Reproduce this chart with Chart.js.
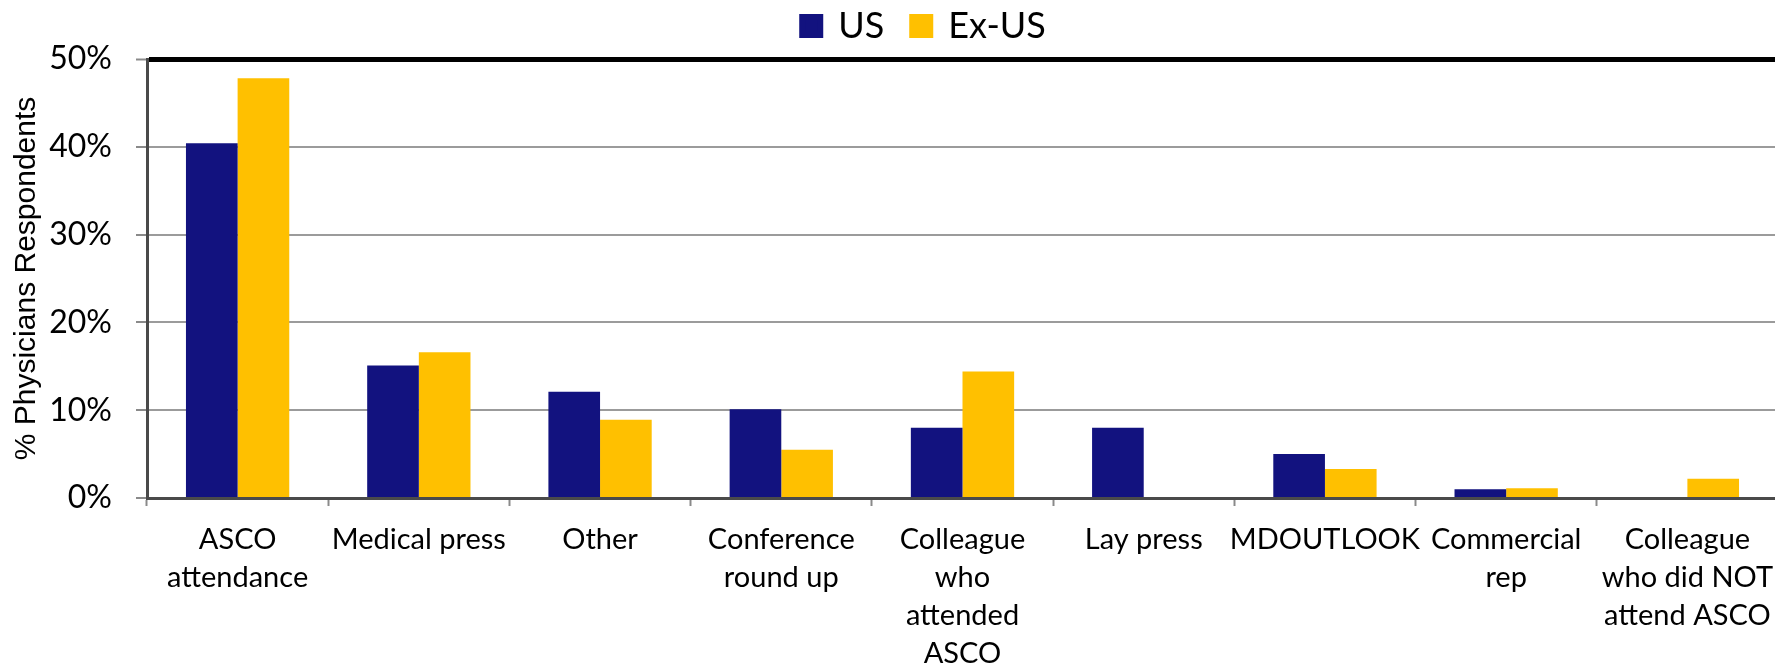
<!DOCTYPE html>
<html>
<head>
<meta charset="utf-8">
<script src="https://cdn.jsdelivr.net/npm/chart.js@4.4.1/dist/chart.umd.min.js"></script>
<style>
  html, body { margin: 0; padding: 0; background: #ffffff; overflow: hidden; }
  #wrap { width: 1792px; height: 667px; }
</style>
</head>
<body>
<div id="wrap"><canvas id="c" width="1792" height="667"></canvas></div>
<script>
// Source of ASCO information, by region (% of physician respondents)
const categories = [
  ["ASCO", "attendance"],
  ["Medical press"],
  ["Other"],
  ["Conference", "round up"],
  ["Colleague", "who", "attended", "ASCO"],
  ["Lay press"],
  ["MDOUTLOOK"],
  ["Commercial", "rep"],
  ["Colleague", "who did NOT", "attend ASCO"]
];
const seriesNames = ["US", "Ex-US"];
const usValues   = [40.4, 15.1, 12.1, 10.1, 8.0, 8.0, 5.0, 1.0, 0];
const exUsValues = [47.8, 16.6, 8.9, 5.5, 14.4, 0, 3.3, 1.1, 2.2];
const yTicks = [0, 10, 20, 30, 40, 50];
const yTitle = "% Physicians Respondents";

const NAVY = "#12127f";
const GOLD = "#ffc000";

// nudges the legend row so it sits where the layout wants it
const legendNudge = {
  id: "legendNudge",
  afterLayout(chart) {
    const lg = chart.legend;
    if (!lg) return;
    const dx = 35, dy = -5;
    lg.left += dx; lg.right += dx;
    lg.top += dy; lg.bottom += dy;
  }
};

new Chart(document.getElementById("c"), {
  type: "bar",
  data: {
    labels: categories,
    datasets: [
      { label: seriesNames[0], data: usValues, backgroundColor: NAVY, borderWidth: 0 },
      { label: seriesNames[1], data: exUsValues, backgroundColor: GOLD, borderWidth: 0 }
    ]
  },
  plugins: [legendNudge],
  options: {
    responsive: false,
    animation: false,
    devicePixelRatio: 1,
    layout: { padding: { top: -15, right: 14, left: 0, bottom: 0 } },
    datasets: { bar: { categoryPercentage: 0.57, barPercentage: 1.0 } },
    plugins: {
      tooltip: { enabled: false },
      legend: {
        position: "top",
        align: "center",
        labels: {
          color: "#000000",
          font: { family: "Lato", size: 36 },
          boxWidth: 18,
          boxHeight: 18,
          padding: 28,
          generateLabels(chart) {
            const items = Chart.defaults.plugins.legend.labels.generateLabels(chart);
            items.forEach(it => { it.strokeStyle = it.fillStyle; it.lineWidth = 6; });
            return items;
          }
        }
      }
    },
    scales: {
      x: {
        offset: true,
        afterFit(s) { s.height = 169; s.paddingLeft = 0; s.paddingRight = 0; },
        grid: {
          drawOnChartArea: false,
          drawTicks: true,
          tickLength: 8,
          tickColor: "#8a8a8a",
          tickWidth: 2,
          offset: true
        },
        border: { display: true, color: "#4a4a4a", width: 3 },
        ticks: {
          color: "#000000",
          font: { family: "Lato", size: 29, lineHeight: 1.31 },
          padding: 15,
          maxRotation: 0,
          minRotation: 0,
          autoSkip: false
        }
      },
      y: {
        min: yTicks[0],
        max: yTicks[yTicks.length - 1],
        afterFit(s) { s.width = 147; },
        afterBuildTicks(s) { s.ticks = yTicks.map(v => ({ value: v })); },
        grid: {
          color: ctx => ctx.tick && ctx.tick.value === 50 ? "#000000"
                      : (ctx.tick && ctx.tick.value === 0 ? "rgba(0,0,0,0)" : "#9b9b9b"),
          lineWidth: ctx => ctx.tick && ctx.tick.value === 50 ? 5 : 2,
          tickColor: "#8a8a8a",
          tickWidth: 2,
          tickLength: 11
        },
        border: { display: true, color: "#4a4a4a", width: 3 },
        ticks: {
          color: "#000000",
          font: { family: "Lato", size: 32 },
          padding: 24,
          callback: v => v + "%"
        },
        title: {
          display: true,
          text: yTitle,
          color: "#000000",
          font: { family: "Liberation Sans", size: 30 },
          padding: { top: 9, bottom: 0 }
        }
      }
    }
  }
});
</script>
</body>
</html>
